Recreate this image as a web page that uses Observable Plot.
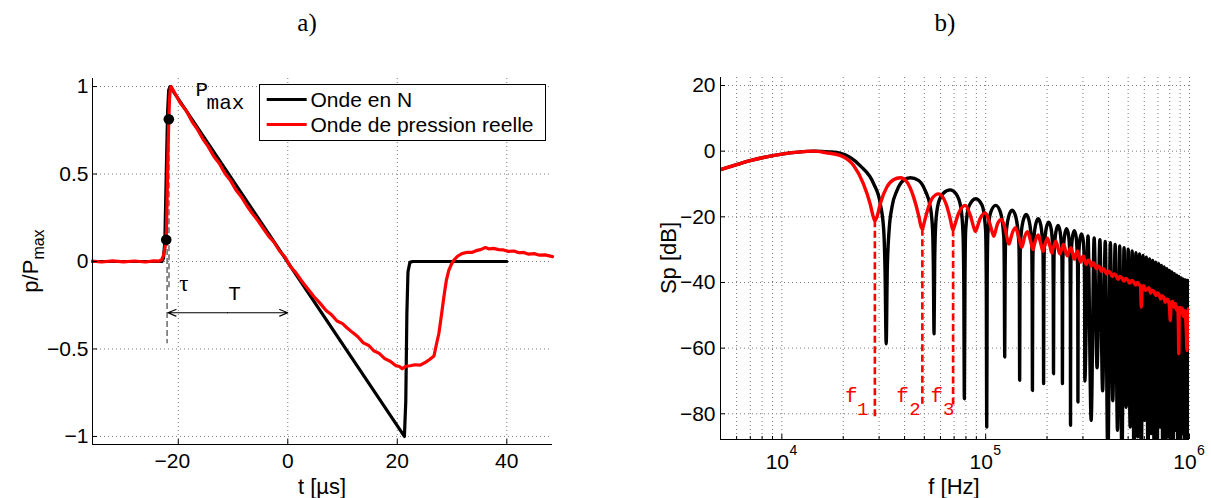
<!DOCTYPE html>
<html>
<head>
<meta charset="utf-8">
<script src="https://cdn.jsdelivr.net/npm/d3@7"></script>
<script src="https://cdn.jsdelivr.net/npm/@observablehq/plot@0.6"></script>
<style>
  html, body { margin: 0; padding: 0; background: #fff; }
  #wrap { position: relative; width: 1211px; height: 498px; overflow: hidden; background: #fff; }
  #wrap > svg { position: absolute; top: 0; }
</style>
</head>
<body>
<div id="wrap"></div>
<script>
// ================= DATA =================
// Panel a) : normalised pressure p/Pmax versus time t [µs]
const tTicks = [-20, 0, 20, 40];
const pTicks = [-1, -0.5, 0, 0.5, 1];
const tDomain = [-35.67, 48.35];
const pDomain = [-1.046, 1.046];

// ideal N-wave [t, p]
const nWave = [[-35.67,0],[-23.0,0],[-22.7,0.02],[-22.45,0.12],[-22.2,0.5],[-21.95,0.86],[-21.75,0.98],[-21.5,1.0],
  [21.3,-1.0],[21.55,-0.8],[21.75,-0.3],[21.95,-0.06],[22.3,-0.005],[22.8,0],[40,0]];

// measured pressure wave [t, p]
const realWave = [[-35.67,0.002],[-34,-0.003],[-32,0.004],[-30,-0.002],[-28,0.003],[-26,-0.003],[-24.5,0.004],[-23.5,0.002],
  [-23.0,0.012],[-22.7,0.035],[-22.45,0.075],[-22.2,0.124],[-22.05,0.35],[-21.9,0.6],[-21.73,0.813],[-21.6,0.93],[-21.45,0.99],
  [-21.3,1.0],[-20.5,0.955],[-19.6,0.905],[-18.5,0.86],[-17.5,0.80],[-16.6,0.76],[-15.5,0.70],[-14.5,0.655],[-13.5,0.60],
  [-12.5,0.56],[-11.5,0.505],[-10.5,0.465],[-9.5,0.41],[-8.5,0.37],[-7.5,0.32],[-6.5,0.275],[-5.5,0.235],[-4.5,0.19],
  [-3.5,0.145],[-2.5,0.11],[-1.5,0.06],[-0.5,0.025],[0.5,-0.03],[1.5,-0.065],[2.5,-0.11],[3.5,-0.15],[4.75,-0.2],
  [5.8,-0.235],[7,-0.28],[8,-0.305],[9,-0.34],[10,-0.355],[10.85,-0.38],[11.8,-0.405],[12.8,-0.43],[13.8,-0.465],
  [14.8,-0.48],[15.7,-0.51],[16.7,-0.525],[17.7,-0.555],[18.7,-0.57],[19.7,-0.595],[20.4,-0.6],[20.9,-0.613],
  [21.6,-0.598],[22.4,-0.596],[23.2,-0.59],[24.2,-0.592],[25.2,-0.575],[25.9,-0.56],[26.7,-0.54],[27.1,-0.48],
  [27.6,-0.41],[28.05,-0.31],[28.5,-0.204],[28.95,-0.11],[29.4,-0.051],[29.9,-0.015],[30.3,0.006],[31.0,0.03],
  [31.8,0.045],[32.8,0.053],[33.6,0.052],[34.4,0.062],[35.2,0.068],[36.1,0.08],[36.8,0.072],[37.6,0.075],[38.5,0.068],
  [39.4,0.066],[40.3,0.058],[41.3,0.06],[42.2,0.05],[43.1,0.052],[44.0,0.042],[45.0,0.045],[46.0,0.036],[47.0,0.038],[48.35,0.028]];

// rise-time markers, dashed guides, period arrow and annotations
const riseDots = [{t: -22.2, p: 0.124}, {t: -21.73, p: 0.813}];
const riseGuides = [{t: -21.7, p1: 0.81, p2: -0.15}, {t: -22.05, p1: 0.12, p2: -0.47}];
const periodArrow = [{from: -11, to: -21.9, p: -0.293}, {from: -11, to: 0, p: -0.293}];
const waveNotes = [
  {t: -15.71, p: 0.983, text: "P", font: "mono"},
  {t: -11.38, p: 0.909, text: "max", font: "mono"},
  {t: -19.0, p: -0.127, text: "τ", font: "serif"},
  {t: -9.73, p: -0.183, text: "T", font: "mono"}
];
const legendLabels = ["Onde en N", "Onde de pression reelle"];
const legendColors = ["#000000", "#ff0000"];

// Panel b) : spectrum Sp [dB] versus f [Hz]
const dbTicks = [20, 0, -20, -40, -60, -80];
const dbDomain = [-87.83, 22.44];
const fDomain = [5000, 1000000];
const fDecades = [1e4, 1e5, 1e6];
const fDecadeExp = ["4", "5", "6"];
const fGrid = [6000,7000,8000,9000,10000,20000,30000,40000,50000,60000,70000,80000,90000,
  100000,200000,300000,400000,500000,600000,700000,800000,900000,1000000];

// N-wave spectrum [f kHz, dB]
const blackSpectrum = [
  [5,-5.6],[6,-4.1],[7,-2.9],[8,-2.0],[10,-0.9],[12,-0.3],[14.5,0],[17,-0.2],[19.3,-0.6],[24.2,-4.4],[28.2,-9.9],
  [30.4,-16],[31.6,-24],[32.1,-37],[32.5,-58.7],[32.9,-36],[33.6,-24],[34.7,-17],[36.7,-12],[39.5,-8.9],[42.7,-8.1],
  [46.8,-8.9],[50.5,-12],[53.5,-17],[54.9,-24],[55.4,-36],[55.8,-55.6],[56.2,-34],[56.9,-22],[58.5,-16],[62,-12.8],
  [66.9,-11.8],[71.5,-13],[75.5,-17],[77.4,-25],[78.1,-40],[78.6,-75.4],[79.1,-40],[79.8,-24],[82.5,-17],[89.5,-14.5],
  [96,-16.5],[99.9,-24],[100.7,-40],[101.2,-84],[101.7,-40],[102.5,-25],[106,-18.5],[112,-16.5],[118,-18.5],
  [122.7,-26],[123.5,-40],[124,-62.7],[124.5,-40],[125.3,-27],[129.5,-20],[134.8,-18],[140.5,-20],[145.5,-28],
  [146.3,-40],[146.8,-69.8],[147.3,-40],[148.1,-28],[152.5,-21.3],[158,-19.3],[163.5,-21.3],[168.4,-29],[169.1,-42],
  [169.6,-72.9],[170.1,-42],[170.9,-30],[175.5,-22.6],[181,-20.6],[186.5,-22.6],[191.2,-31],[191.9,-42],[192.4,-70.8],
  [192.9,-42],[193.6,-31],[198,-23.6],[203.8,-21.6],[209.5,-23.6],[214,-32],[214.7,-43],[215.2,-67.8],[215.7,-43],
  [216.4,-32],[221,-24.6],[226.6,-22.6],[232,-24.6],[236.8,-33],[237.5,-44],[238,-70.8],[238.5,-44],[239.2,-33],
  [244,-25.6],[249.4,-23.6],[255,-25.6],[259.6,-34],[260.3,-45],[260.8,-83.5],[261.3,-45],[262,-34],[266.5,-26.2],
  [272.2,-24.2],[278,-26.2],[282.4,-35],[283.1,-46],[283.6,-76.4],[284.1,-46],[284.8,-35],[289.5,-27.2],[295,-25.2],
  [301,-27.2],[305.2,-36],[305.9,-46],[306.4,-70],
  [317.8,-25.8],[329.2,-82],[340.6,-26.4],[352,-66],[363.4,-27],[374.8,-73],[386.2,-27.5],[397.6,-95],[409,-27.9],
  [420.4,-76],[431.8,-28.4],[443.2,-85],[454.6,-28.9],[466,-95],[477.4,-29.4],[488.8,-78],[500.2,-29.9],[511.6,-84],
  [523,-30.4],[534.4,-95],[545.8,-30.9],[557.2,-87],[568.6,-31.3],[580,-95],[591.4,-31.8],[602.8,-82],[614.2,-32.3],
  [625.6,-95],[637,-32.8],[648.4,-86],[659.8,-33.3],[671.2,-95],[682.6,-33.8],[694,-95],[705.4,-34.3],[716.8,-84],
  [728.2,-34.8],[739.6,-95],[751,-35.3],[762.4,-95],[773.8,-35.8],[785.2,-87],[796.6,-36.3],[808,-95],[819.4,-36.8],
  [830.8,-95],[842.2,-37.3],[853.6,-85],[865,-37.8],[876.4,-95],[887.8,-38.2],[899.2,-95],[910.6,-38.6],[922,-86],
  [933.4,-39],[944.8,-95],[956.2,-39.2],[967.6,-95],[979,-39.4],[990.4,-95],[1000,-39.5]];

// measured-wave spectrum [f kHz, dB]
const redSpectrum = [
  [5,-5.6],[6,-4.1],[7,-2.9],[8,-2.0],[10,-0.9],[12,-0.3],[14.3,0],[16.5,-0.5],[19.3,-1.3],[22.5,-4.4],[25.1,-9.9],
  [27.1,-16],[28.1,-20],[28.6,-21.2],[29.3,-20],[30.4,-16],[32.7,-11],[35.3,-8.7],[38.1,-8.1],[41.1,-9.4],[44.3,-14],
  [46.9,-19.6],[48.2,-23],[48.9,-23.8],[49.6,-22.5],[51.5,-18.6],[54.5,-14.5],[58.7,-13],[63.4,-15.5],[67,-20.6],
  [68.6,-23.5],[69.2,-24],[70.1,-23],[73.6,-19],[79.4,-16.5],[84,-19.5],[88.3,-24],[89.3,-24.5],[90.5,-23.5],
  [94,-20.5],[99.5,-18.8],[104.5,-21.8],[108.8,-25.5],[109.7,-25.9],[111,-25],[114.5,-22],[119.5,-20.8],[124.5,-23.5],
  [129.2,-28],[130.2,-28.3],[131.5,-27.5],[135,-25],[140,-23.3],[145,-26],[149.5,-29],[150.5,-29.3],[152,-28.5],
  [155.5,-26],[160.5,-24.5],[165.5,-27],[170,-29.7],[171,-30],[172.5,-29],[176,-27],[181,-25.5],[186,-28],
  [190.5,-30.3],[191.5,-30.5],[193,-29.5],[196.5,-28],[201,-26.5],[206,-28.6],[210.5,-30.8],[211.5,-31],[213,-30],
  [216.5,-28.8],[221,-27.4],[226,-29.4],[231,-31.3],[235.5,-30],[241,-28.4],[246,-30.1],[251.5,-31.9],[256.5,-30.6],
  [262,-29.4],[267,-31],[272,-32.9],[277,-31.6],[282,-30.4],[287,-32],[292,-33.8],[297,-32.4],[302,-32.0],[307,-33.6],
  [312,-34.5],[318,-33.2],[324,-33.4],[330,-35],[336,-34],[342,-34.4],[349,-35.8],[355,-35],[362,-35.3],[369,-36.6],
  [376,-35.8],[384,-36.2],[392,-37.4],[400,-36.6],[409,-37],[418,-38.2],[427,-37.4],[436,-37.8],[446,-39],[456,-38.2],
  [466,-38.6],[476,-39.6],[487,-38.8],[498,-39.3],[509,-40.2],[520,-39.4],[532,-39.8],[544,-40.8],[556,-40],
  [566,-40.6],[575,-41.2],[580,-47.5],[586,-41.6],[596,-41],[608,-42.4],[620,-42],[632,-41.6],[645,-43.2],[658,-42.4],
  [670,-42.8],[683,-44],[695,-43.2],[708,-43.6],[722,-45],[735,-44],[748,-44.6],[762,-46],[775,-45],[788,-45.6],
  [798,-47.5],[805,-51.6],[812,-46.5],[826,-45.8],[840,-47.6],[852,-46.4],[866,-48.5],[875,-47.5],[882,-53],
  [886,-61.7],[890,-50],[898,-47.6],[910,-49.2],[922,-47.8],[935,-50.4],[948,-48.6],[958,-51],[965,-55],[973,-60.7],
  [978,-50],[986,-48],[994,-50],[1000,-48.5]];

// first three notch frequencies of the measured spectrum
const fMarkers = [{f: 28600, top: -21.2, bottom: -81}, {f: 48900, top: -23.8, bottom: -78}, {f: 69200, top: -24, bottom: -78}];
const fMarkerNames = [{f: 21900, db: -74.4, text: "f"}, {f: 39100, db: -74.4, text: "f"}, {f: 57500, db: -74.4, text: "f"}];
const fMarkerIdx = [{f: 24900, db: -78.4, text: "1"}, {f: 45000, db: -78.4, text: "2"}, {f: 65900, db: -78.4, text: "3"}];

// ================= DRAWING =================
const SANS = '"Liberation Sans", Arial, Helvetica, sans-serif';
const MONO = '"Liberation Mono", "Courier New", "DejaVu Sans Mono", monospace';
const SERIF = '"Liberation Serif", "DejaVu Serif", serif';
const H = 498;
const fmtNum = d => (d < 0 ? "\u2212" : "") + Math.abs(d);
const gridStyle = {stroke: "#7a7a7a", strokeWidth: 1, strokeDasharray: "1,3"};

// ---- panel a ----
const A = {w: 600, l: 92, r: 48, t: 78, b: 54};
const innerHA = H - A.t - A.b, innerWA = A.w - A.l - A.r;
const plotA = Plot.plot({
  width: A.w, height: H, marginLeft: A.l, marginRight: A.r, marginTop: A.t, marginBottom: A.b,
  style: {fontFamily: SANS, fontSize: "21px", background: "transparent", overflow: "visible", color: "#000"},
  x: {domain: tDomain, axis: null}, y: {domain: pDomain, axis: null},
  marks: [
    Plot.ruleX(tTicks, {x: d => d, ...gridStyle}),
    Plot.ruleY(pTicks, {y: d => d, ...gridStyle}),
    Plot.ruleX(riseGuides, {x: "t", y1: "p1", y2: "p2", stroke: "#333", strokeWidth: 1.1, strokeDasharray: "6,3"}),
    Plot.line(nWave, {x: d => d[0], y: d => d[1], stroke: "#000", strokeWidth: 3.2, strokeLinejoin: "round"}),
    Plot.line(realWave, {x: d => d[0], y: d => d[1], stroke: "#ff0000", strokeWidth: 3.2, strokeLinejoin: "round"}),
    Plot.dot(riseDots, {x: "t", y: "p", r: 5.3, fill: "#000", stroke: null}),
    Plot.arrow(periodArrow, {x1: "from", x2: "to", y1: "p", y2: "p", stroke: "#000", strokeWidth: 1.1, headLength: 12, headAngle: 45}),
    Plot.text(waveNotes.filter(d => d.font === "mono"), {x: "t", y: "p", text: "text", fontFamily: MONO, fontSize: 21, fill: "#000"}),
    Plot.text(waveNotes.filter(d => d.font === "serif"), {x: "t", y: "p", text: "text", fontFamily: SERIF, fontSize: 23, fill: "#000"}),
    Plot.ruleX([tDomain[0]], {stroke: "#000", strokeWidth: 1}),
    Plot.ruleY([pDomain[0]], {stroke: "#000", strokeWidth: 1}),
    Plot.tickX(tTicks, {x: d => d, insetTop: innerHA - 5, stroke: "#000"}),
    Plot.tickY(pTicks, {y: d => d, insetRight: innerWA - 5, stroke: "#000"}),
    Plot.text(tTicks.filter(d => d < 0), {x: d => d, text: fmtNum, frameAnchor: "bottom", dy: 23, dx: -6, fill: "#000"}),
    Plot.text(tTicks.filter(d => d >= 0), {x: d => d, text: fmtNum, frameAnchor: "bottom", dy: 23, fill: "#000"}),
    Plot.axisY(pTicks, {tickSize: 0, tickPadding: 4, tickFormat: fmtNum, label: null})
  ]
});
plotA.style.left = "0px";

// ---- panel b ----
const B = {w: 611, l: 120, r: 22, t: 77, b: 59};
const innerHB = H - B.t - B.b, innerWB = B.w - B.l - B.r;
const plotB = Plot.plot({
  width: B.w, height: H, marginLeft: B.l, marginRight: B.r, marginTop: B.t, marginBottom: B.b,
  style: {fontFamily: SANS, fontSize: "21px", background: "transparent", overflow: "visible", color: "#000"},
  x: {type: "log", domain: fDomain, axis: null}, y: {domain: dbDomain, axis: null},
  marks: [
    Plot.ruleX(fGrid, {x: d => d, ...gridStyle}),
    Plot.ruleY(dbTicks, {y: d => d, ...gridStyle}),
    Plot.line(blackSpectrum, {x: d => d[0] * 1000, y: d => d[1], stroke: "#000", strokeWidth: 3.4, curve: "monotone-x", strokeLinejoin: "round", clip: true}),
    Plot.line(redSpectrum, {x: d => d[0] * 1000, y: d => d[1], stroke: "#ff0000", strokeWidth: 3.4, curve: "monotone-x", strokeLinejoin: "round", clip: true}),
    Plot.ruleX(fMarkers, {x: "f", y1: "top", y2: "bottom", stroke: "#ff0000", strokeWidth: 2.6, strokeDasharray: "7,3.5"}),
    Plot.text(fMarkerNames, {x: "f", y: "db", text: "text", fontFamily: MONO, fontSize: 21, fill: "#ff0000"}),
    Plot.text(fMarkerIdx, {x: "f", y: "db", text: "text", fontFamily: MONO, fontSize: 19, fill: "#ff0000"}),
    Plot.ruleX([fDomain[0]], {stroke: "#000", strokeWidth: 1}),
    Plot.ruleY([dbDomain[0]], {stroke: "#000", strokeWidth: 1}),
    Plot.tickX(fGrid.filter(d => !fDecades.includes(d)), {x: d => d, insetTop: innerHB - 3, stroke: "#000"}),
    Plot.tickX(fDecades, {x: d => d, insetTop: innerHB - 5, stroke: "#000"}),
    Plot.tickY(dbTicks, {y: d => d, insetRight: innerWB - 5, stroke: "#000"}),
    Plot.text(fDecades, {x: d => d, text: () => "10", frameAnchor: "bottom", dy: 29, dx: -4.5, fill: "#000"}),
    Plot.text(fDecades, {x: d => d, text: (d, i) => fDecadeExp[i], frameAnchor: "bottom", dy: 15, dx: 11.5, fontSize: 14, fill: "#000"}),
    Plot.axisY(dbTicks, {tickSize: 0, tickPadding: 5, tickFormat: fmtNum, label: null})
  ]
});
plotB.style.left = "600px";

const wrap = document.getElementById("wrap");
wrap.appendChild(plotA);
wrap.appendChild(plotB);

// ---- titles, axis labels, legend ----
const ov = d3.select(wrap).append("svg")
  .attr("width", 1211).attr("height", H)
  .style("left", "0px").style("pointer-events", "none");

const panelTitles = ["a)", "b)"];
ov.append("text").attr("x", 307).attr("y", 31).attr("text-anchor", "middle")
  .attr("font-family", SERIF).attr("font-size", 25).text(panelTitles[0]);
ov.append("text").attr("x", 945).attr("y", 31).attr("text-anchor", "middle")
  .attr("font-family", SERIF).attr("font-size", 25).text(panelTitles[1]);

ov.append("text").attr("x", 322).attr("y", 494).attr("text-anchor", "middle")
  .attr("font-family", SANS).attr("font-size", 22).text("t [µs]");
ov.append("text").attr("x", 954).attr("y", 494).attr("text-anchor", "middle")
  .attr("font-family", SANS).attr("font-size", 22).text("f [Hz]");

const yl = ov.append("text").attr("transform", "translate(38,261) rotate(-90)").attr("text-anchor", "middle")
  .attr("font-family", SANS).attr("font-size", 22);
yl.append("tspan").text("p/P");
yl.append("tspan").attr("dy", 6).attr("font-size", 16).text("max");

ov.append("text").attr("transform", "translate(676,258) rotate(-90)").attr("text-anchor", "middle")
  .attr("font-family", SANS).attr("font-size", 22).text("Sp [dB]");

const lg = ov.append("g");
lg.append("rect").attr("x", 259.5).attr("y", 84.5).attr("width", 286).attr("height", 56)
  .attr("fill", "#fff").attr("stroke", "#000").attr("stroke-width", 1);
legendLabels.forEach((label, i) => {
  const cy = 99.5 + i * 25;
  lg.append("line").attr("x1", 266.7).attr("x2", 306.7).attr("y1", cy).attr("y2", cy)
    .attr("stroke", legendColors[i]).attr("stroke-width", 3.2);
  lg.append("text").attr("x", 310.5).attr("y", cy + 7.5)
    .attr("font-family", SANS).attr("font-size", 21).attr("fill", "#000").text(label);
});
</script>
</body>
</html>
